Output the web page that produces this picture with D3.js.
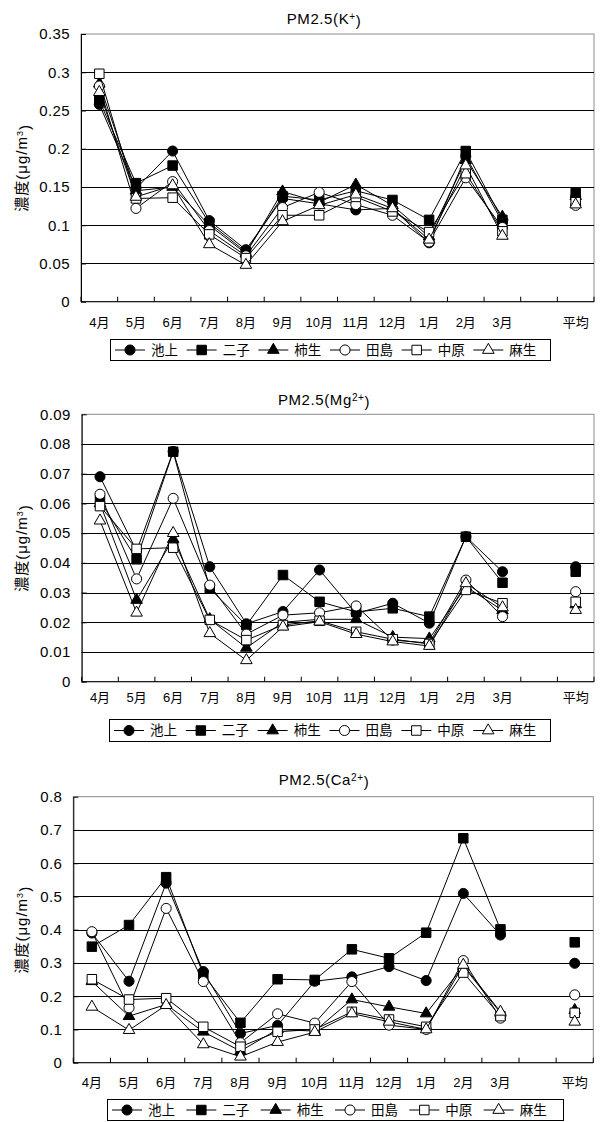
<!DOCTYPE html>
<html>
<head>
<meta charset="utf-8">
<script src="https://cdn.jsdelivr.net/npm/d3@7"></script>
<style>
  body { margin: 0; background: #fff; }
  svg { display: block; }
  text { font-family: "Liberation Sans", "Noto Sans CJK JP", sans-serif; fill: #000; }
</style>
</head>
<body>
<svg id="chart" width="600" height="1122"></svg>
<script>
// Month categories (fiscal year April -> March), a blank slot, then the annual average
const months = ["4月", "5月", "6月", "7月", "8月", "9月", "10月", "11月", "12月", "1月", "2月", "3月"];
const categories = [...months, "", "平均"];
const sites = ["池上", "二子", "柿生", "田島", "中原", "麻生"];
const markerShapes = ["circle", "square", "triangle", "circle", "square", "triangle"];
const markerFilled = [true, true, true, false, false, false];

// PM2.5 K+ (µg/m3): 12 monthly values followed by the annual average
const kIkegami = [0.258, 0.148, 0.197, 0.106, 0.068, 0.135, 0.128, 0.120, 0.122, 0.077, 0.190, 0.104, 0.137];
const kFutago  = [0.263, 0.155, 0.178, 0.103, 0.065, 0.138, 0.133, 0.145, 0.133, 0.107, 0.197, 0.107, 0.142];
const kKakio   = [0.285, 0.145, 0.150, 0.100, 0.063, 0.144, 0.130, 0.153, 0.126, 0.085, 0.185, 0.111, 0.138];
const kTajima  = [0.282, 0.122, 0.157, 0.093, 0.060, 0.123, 0.143, 0.127, 0.113, 0.078, 0.162, 0.097, 0.126];
const kNakahara= [0.298, 0.135, 0.136, 0.088, 0.057, 0.113, 0.113, 0.137, 0.118, 0.091, 0.168, 0.092, 0.130];
const kAsao    = [0.274, 0.137, 0.152, 0.075, 0.048, 0.105, 0.126, 0.140, 0.122, 0.081, 0.178, 0.086, 0.127];

// PM2.5 Mg2+ (µg/m3)
const mgIkegami = [0.0690, 0.0440, 0.0775, 0.0387, 0.0195, 0.0236, 0.0376, 0.0230, 0.0264, 0.0197, 0.0488, 0.0370, 0.0387];
const mgFutago  = [0.0610, 0.0412, 0.0774, 0.0314, 0.0190, 0.0359, 0.0269, 0.0235, 0.0247, 0.0219, 0.0488, 0.0333, 0.0370];
const mgKakio   = [0.0600, 0.0275, 0.0480, 0.0210, 0.0114, 0.0200, 0.0210, 0.0210, 0.0150, 0.0145, 0.0320, 0.0240, 0.0260];
const mgTajima  = [0.0631, 0.0346, 0.0617, 0.0325, 0.0160, 0.0224, 0.0232, 0.0255, 0.0140, 0.0130, 0.0342, 0.0219, 0.0303];
const mgNakahara= [0.0591, 0.0447, 0.0451, 0.0208, 0.0140, 0.0191, 0.0205, 0.0168, 0.0143, 0.0127, 0.0309, 0.0264, 0.0269];
const mgAsao    = [0.0542, 0.0232, 0.0500, 0.0163, 0.0072, 0.0185, 0.0202, 0.0160, 0.0135, 0.0120, 0.0331, 0.0250, 0.0241];

// PM2.5 Ca2+ (µg/m3)
const caIkegami = [0.390, 0.245, 0.540, 0.274, 0.088, 0.112, 0.245, 0.258, 0.289, 0.247, 0.509, 0.384, 0.299];
const caFutago  = [0.349, 0.414, 0.558, 0.265, 0.120, 0.251, 0.249, 0.341, 0.314, 0.391, 0.675, 0.401, 0.362];
const caKakio   = [0.245, 0.140, 0.175, 0.093, 0.035, 0.100, 0.095, 0.190, 0.168, 0.148, 0.290, 0.150, 0.158];
const caTajima  = [0.394, 0.165, 0.464, 0.244, 0.060, 0.147, 0.119, 0.244, 0.113, 0.100, 0.307, 0.134, 0.204];
const caNakahara= [0.251, 0.190, 0.194, 0.108, 0.048, 0.093, 0.100, 0.153, 0.130, 0.108, 0.271, 0.140, 0.150];
const caAsao    = [0.168, 0.098, 0.173, 0.055, 0.018, 0.062, 0.092, 0.148, 0.123, 0.100, 0.294, 0.153, 0.123];

// Y-axis tick values for each panel
const kTicks  = [0, 0.05, 0.1, 0.15, 0.2, 0.25, 0.3, 0.35];
const mgTicks = [0, 0.01, 0.02, 0.03, 0.04, 0.05, 0.06, 0.07, 0.08, 0.09];
const caTicks = [0, 0.1, 0.2, 0.3, 0.4, 0.5, 0.6, 0.7, 0.8];

const panels = [
  { ion: "K", sup: "+", ticks: kTicks,
    data: [kIkegami, kFutago, kKakio, kTajima, kNakahara, kAsao],
    box: { left: 81, right: 594, top: 34, bottom: 301.7 },
    titleY: 24, xLabelY: 322, legend: { x: 110, y: 339, w: 440, h: 21 } },
  { ion: "Mg", sup: "2+", ticks: mgTicks,
    data: [mgIkegami, mgFutago, mgKakio, mgTajima, mgNakahara, mgAsao],
    box: { left: 81.7, right: 594, top: 414.3, bottom: 681.7 },
    titleY: 405, xLabelY: 697, legend: { x: 109, y: 719, w: 441, h: 22 } },
  { ion: "Ca", sup: "2+", ticks: caTicks,
    data: [caIkegami, caFutago, caKakio, caTajima, caNakahara, caAsao],
    box: { left: 73.3, right: 593.3, top: 796.7, bottom: 1062.7 },
    titleY: 785, xLabelY: 1082, legend: { x: 107, y: 1099, w: 456, h: 21 } }
];

const svg = d3.select("#chart");

function symbolFor(shape) {
  if (shape === "circle") return d3.symbol(d3.symbolCircle, 80);
  if (shape === "square") return d3.symbol(d3.symbolSquare, 90);
  return d3.symbol(d3.symbolTriangle, 58);
}

function drawMarker(g, shape, filled, cx, cy) {
  g.append("path")
    .attr("d", symbolFor(shape)())
    .attr("transform", `translate(${cx},${cy})`)
    .attr("fill", filled ? "#000" : "#fff")
    .attr("stroke", "#000")
    .attr("stroke-width", 1);
}

panels.forEach(p => {
  const g = svg.append("g");
  const b = p.box;

  const x = d3.scaleBand().domain(categories).range([b.left, b.right]);
  const y = d3.scaleLinear().domain([0, d3.max(p.ticks)]).range([b.bottom, b.top]);
  const half = x.bandwidth() / 2;

  // plot frame
  g.append("rect")
    .attr("x", b.left).attr("y", b.top)
    .attr("width", b.right - b.left).attr("height", b.bottom - b.top)
    .attr("fill", "#fff").attr("stroke", "#8c8c8c").attr("stroke-width", 1);

  // horizontal gridlines
  g.append("g").selectAll("line")
    .data(p.ticks.filter(t => t > 0 && t < d3.max(p.ticks)))
    .join("line")
    .attr("x1", b.left).attr("x2", b.right)
    .attr("y1", d => Math.round(y(d)) + 0.5).attr("y2", d => Math.round(y(d)) + 0.5)
    .attr("stroke", "#000").attr("stroke-width", 1);

  // y axis with inward ticks
  const yAxis = d3.axisLeft(y)
    .tickValues(p.ticks)
    .tickSizeInner(-5).tickSizeOuter(0).tickPadding(11)
    .tickFormat(d => String(+d.toFixed(2)));
  const ya = g.append("g").attr("transform", `translate(${b.left},0)`).call(yAxis);
  ya.select(".domain").attr("stroke", "#000");
  ya.selectAll("text").style("font-size", "15px").style("letter-spacing", "0.4px").attr("fill", "#000");

  // x axis baseline and inward ticks at category boundaries
  g.append("line")
    .attr("x1", b.left).attr("x2", b.right)
    .attr("y1", b.bottom).attr("y2", b.bottom)
    .attr("stroke", "#000");
  const bounds = categories.map(c => x(c)).concat([b.right]);
  g.append("g").selectAll("line").data(bounds).join("line")
    .attr("x1", d => d).attr("x2", d => d)
    .attr("y1", b.bottom).attr("y2", b.bottom - 5)
    .attr("stroke", "#000");

  // category labels
  const xAxis = d3.axisBottom(x).tickSize(0).tickPadding(0);
  const xa = g.append("g").attr("transform", `translate(0,${p.xLabelY})`).call(xAxis);
  xa.select(".domain").remove();
  xa.selectAll("text").attr("dy", "0.35em").attr("y", 0).style("font-size", "13px").attr("fill", "#000");

  // title
  const title = g.append("text")
    .attr("x", 324).attr("y", p.titleY)
    .attr("text-anchor", "middle")
    .style("font-size", "15px")
    .style("letter-spacing", "0.6px");
  title.append("tspan").text(`PM2.5(${p.ion}`);
  title.append("tspan").attr("dy", "-0.45em").style("font-size", "10px").text(p.sup);
  title.append("tspan").attr("dy", "0.45em").text(")");

  // y-axis title
  const yt = g.append("text")
    .attr("transform", `translate(27,${(b.top + b.bottom) / 2}) rotate(-90)`)
    .attr("text-anchor", "middle")
    .style("font-size", "15px")
    .style("letter-spacing", "1px");
  yt.append("tspan").text("濃度(μg/m");
  yt.append("tspan").attr("dy", "-0.45em").style("font-size", "9px").text("3");
  yt.append("tspan").attr("dy", "0.45em").text(")");

  // series: line through the 12 months, then markers (average is a lone marker)
  const line = d3.line()
    .x((d, i) => x(months[i]) + half)
    .y(d => y(d));
  p.data.forEach((vals, si) => {
    const sg = g.append("g");
    const monthly = vals.slice(0, months.length);
    sg.append("path")
      .attr("d", line(monthly))
      .attr("fill", "none").attr("stroke", "#000").attr("stroke-width", 1);
    monthly.forEach((v, i) => drawMarker(sg, markerShapes[si], markerFilled[si], x(months[i]) + half, y(v)));
    drawMarker(sg, markerShapes[si], markerFilled[si], x("平均") + half, y(vals[months.length]));
  });

  // legend
  const L = p.legend;
  const lg = g.append("g");
  lg.append("rect")
    .attr("x", L.x + 0.5).attr("y", L.y + 0.5)
    .attr("width", L.w).attr("height", L.h)
    .attr("fill", "#fff").attr("stroke", "#000");
  const itemW = (L.w - 10) / sites.length;
  const cy = L.y + L.h / 2 + 0.5;
  sites.forEach((s, i) => {
    const x0 = L.x + 5 + i * itemW;
    lg.append("line").attr("x1", x0).attr("x2", x0 + 30).attr("y1", cy).attr("y2", cy).attr("stroke", "#000");
    drawMarker(lg, markerShapes[i], markerFilled[i], x0 + 15, cy);
    lg.append("text").attr("x", x0 + 36).attr("y", cy).attr("dy", "0.36em")
      .style("font-size", "13.5px").text(s);
  });
});
</script>
</body>
</html>
